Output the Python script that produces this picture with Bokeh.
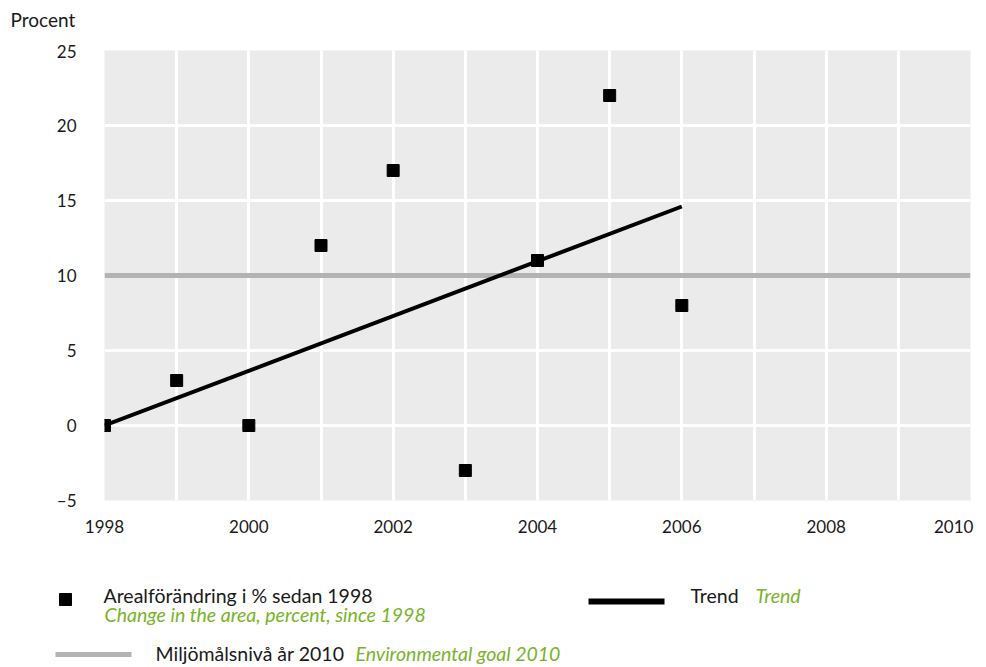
from bokeh.plotting import figure
from bokeh.models import Range1d, FixedTicker
from bokeh.layouts import column
from bokeh.core.properties import value
from bokeh.embed import file_html
from bokeh.resources import INLINE

# ---- data ----
years = [1998, 1999, 2000, 2001, 2002, 2003, 2004, 2005, 2006]
change_pct = [0, 3, 0, 12, 17, -3, 11, 22, 8]
trend_years = [1998, 2006]
trend_values = [0, 14.6]
goal_years = [1998, 2010]
goal_values = [10, 10]
x_tick_years = [1998, 2000, 2002, 2004, 2006, 2008, 2010]
x_tick_labels = {1998: "1998", 2000: "2000", 2002: "2002", 2004: "2004",
                 2006: "2006", 2008: "2008", 2010: "2010\u00a0\u00a0\u00a0"}
x_grid_years = list(range(1998, 2011))
y_ticks = [-5, 0, 5, 10, 15, 20, 25]
y_tick_labels = {-5: "\u20135", 0: "0", 5: "5", 10: "10", 15: "15", 20: "20", 25: "25"}

FONT = "Lato"
GREEN = "#78B428"
GRAY = "#B3B3B3"
TXT = "#1a1a1a"
W = 986

# ---- header (unit label) ----
hd = figure(width=W, height=40, output_backend="svg", toolbar_location=None,
            x_range=Range1d(0, W), y_range=Range1d(40, 0),
            x_axis_type=None, y_axis_type=None,
            min_border_left=0, min_border_right=0, min_border_top=0, min_border_bottom=0)
hd.outline_line_color = None
hd.grid.visible = False
hd.frame_align = False
hd.text([10], [19], text=["Procent"], text_font=value(FONT), text_font_size="19px",
        text_color=TXT, text_align="left", text_baseline="alphabetic")

# ---- main chart ----
p = figure(width=W, height=505, output_backend="svg", toolbar_location=None,
           x_range=Range1d(1998, 2010), y_range=Range1d(-5, 25),
           min_border_left=104, min_border_right=16, min_border_top=10, min_border_bottom=45)
p.frame_align = False
p.outline_line_color = None
p.background_fill_color = "#EBEBEB"
p.border_fill_color = "white"

p.xgrid.ticker = FixedTicker(ticks=x_grid_years)
p.ygrid.ticker = FixedTicker(ticks=y_ticks)
for g in (p.xgrid, p.ygrid):
    g.grid_line_color = "white"
    g.grid_line_width = 3

p.xaxis.ticker = FixedTicker(ticks=x_tick_years)
p.xaxis.major_label_overrides = x_tick_labels
p.yaxis.ticker = FixedTicker(ticks=y_ticks)
p.yaxis.major_label_overrides = y_tick_labels
for ax in (p.xaxis, p.yaxis):
    ax.axis_line_color = None
    ax.major_tick_line_color = None
    ax.minor_tick_line_color = None
    ax.major_tick_in = 0
    ax.major_tick_out = 0
    ax.major_label_text_font = FONT
    ax.major_label_text_font_size = "17px"
    ax.major_label_text_color = TXT
p.yaxis.major_label_standoff = 28
p.xaxis.major_label_standoff = 15

p.line(goal_years, goal_values, line_color=GRAY, line_width=5)
p.line(trend_years, trend_values, line_color="black", line_width=4)
p.scatter(years, change_pct, marker="square", size=12, fill_color="black", line_color="black")

# ---- legend panel ----
LH = 122
lg = figure(width=W, height=LH, output_backend="svg", toolbar_location=None,
            x_range=Range1d(0, W), y_range=Range1d(LH, 0),
            x_axis_type=None, y_axis_type=None,
            min_border_left=0, min_border_right=0, min_border_top=0, min_border_bottom=0)
lg.frame_align = False
lg.outline_line_color = None
lg.grid.visible = False
lg.background_fill_color = "white"

lg.scatter([65], [54], marker="square", size=12, fill_color="black", line_color="black")
lg.line([588, 664], [56, 56], line_color="black", line_width=6)
lg.line([55, 131], [109, 109], line_color=GRAY, line_width=5)

def txt(x, y, s, color=TXT, style="normal"):
    lg.text([x], [y], text=[s], text_font=value(FONT), text_font_size="19.5px",
            text_color=color, text_font_style=style, text_align="left",
            text_baseline="alphabetic")

txt(103, 50, "Arealförändring i % sedan 1998")
txt(104, 69, "Change in the area, percent, since 1998", GREEN, "italic")
txt(690, 50, "Trend")
txt(755, 50, "Trend", GREEN, "italic")
txt(155, 108, "Miljömålsnivå år 2010")
txt(355, 108, "Environmental goal 2010", GREEN, "italic")

layout = column(hd, p, lg, spacing=0)
open("out.html", "w").write(file_html(layout, INLINE))
